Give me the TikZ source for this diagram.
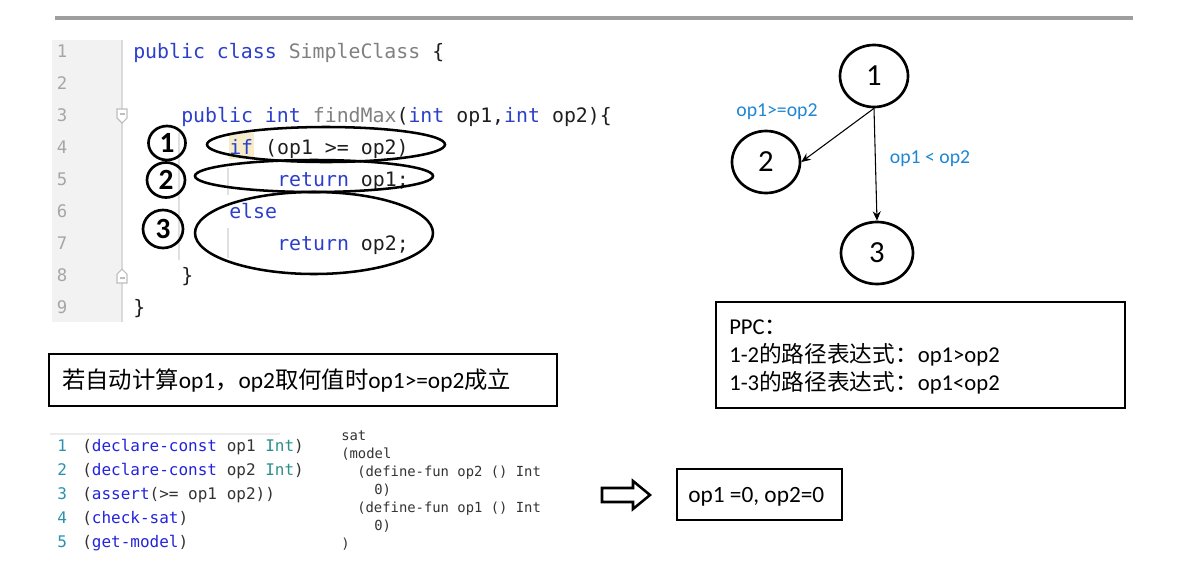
\documentclass[tikz,border=0pt]{standalone}
\usepackage{fontspec}
\setmainfont{Carlito}
\newfontfamily\zhfont{Noto Sans CJK SC}
\newfontfamily\codefont{DejaVu Sans Mono}
\usetikzlibrary{arrows.meta,shapes.geometric}
\definecolor{kw}{HTML}{2B3FCB}
\definecolor{gr}{HTML}{808080}
\definecolor{tx}{HTML}{1E1E1E}
\definecolor{lnumc}{HTML}{A6A6A6}
\definecolor{gutter}{HTML}{F2F2F2}
\definecolor{guide}{HTML}{E0E0E0}
\definecolor{hl}{HTML}{F6ECC9}
\definecolor{lbl}{HTML}{1F86D2}
\definecolor{smtnum}{HTML}{2B91AF}
\definecolor{smtkw}{HTML}{2323DD}
\definecolor{smtty}{HTML}{2B9089}
\definecolor{outc}{HTML}{333333}
\newcommand{\kwc}[1]{\textcolor{kw}{#1}}
\newcommand{\grc}[1]{\textcolor{gr}{#1}}
\newcommand{\skw}[1]{\textcolor{smtkw}{#1}}
\newcommand{\sty}[1]{\textcolor{smtty}{#1}}
\newcommand{\zh}[1]{{\zhfont #1}}
\tikzset{
  code/.style={font=\codefont\fontsize{14.9}{18}\selectfont, text=tx, inner sep=0, anchor=base west},
  lnum/.style={font=\codefont\fontsize{13}{16}\selectfont, text=lnumc, inner sep=0, anchor=base},
  smt/.style={font=\codefont\fontsize{12}{14}\selectfont, text=outc, inner sep=0, anchor=base west},
  smtn/.style={font=\codefont\fontsize{12}{14}\selectfont, text=smtnum, inner sep=0, anchor=base west},
  smtout/.style={font=\codefont\fontsize{10.4}{12}\selectfont, text=outc, inner sep=0, anchor=base west},
  oval/.style={ellipse, draw, line width=1.9pt, inner sep=0},
  cnum/.style={ellipse, draw, line width=2pt, inner sep=0, font=\bfseries\fontsize{22}{24}\selectfont},
  gnode/.style={ellipse, draw, line width=2pt, inner sep=0, minimum width=51pt, minimum height=46.5pt, font=\fontsize{23}{24}\selectfont},
  edge/.style={-{Stealth[length=7pt,width=6pt]}, line width=0.8pt},
  elabel/.style={text=lbl, inner sep=0, font=\fontsize{14.8}{16}\selectfont},
  box/.style={draw, line width=1.9pt, inner sep=0},
  btext/.style={inner sep=0, anchor=base west, font=\fontsize{17}{20}\selectfont}
}
\begin{document}
\begin{tikzpicture}[x=0.75pt,y=-0.75pt]
\useasboundingbox (0,0) rectangle (1189,565);
% top rule
\draw[line width=2.8pt, color={rgb,255:red,158;green,158;blue,158}] (55,18) -- (1133,18);
% code gutter
\fill[gutter] (52,40) rectangle (122,322);
\draw[line width=1.1pt, color={rgb,255:red,218;green,218;blue,218}] (122,40) -- (122,322);
\foreach \i in {1,...,9} {
  \node[lnum] (ln\i) at (62,{52+32*(\i-1)+5.5}) {\i};
}
% fold markers
\draw[fill=white, draw={rgb,255:red,190;green,190;blue,190}, line width=0.8pt] (117,109) -- (127,109) -- (127,118) -- (122,123) -- (117,118) -- cycle;
\draw[color={rgb,255:red,190;green,190;blue,190}, line width=0.8pt] (119.5,114) -- (124.5,114);
\draw[fill=white, draw={rgb,255:red,190;green,190;blue,190}, line width=0.8pt] (117,283) -- (127,283) -- (127,274) -- (122,269) -- (117,274) -- cycle;
\draw[color={rgb,255:red,190;green,190;blue,190}, line width=0.8pt] (119.5,278) -- (124.5,278);
% indent guides
\draw[guide, line width=0.9pt] (179,133) -- (179,260);
\draw[guide, line width=0.9pt] (228,168) -- (228,195);
\draw[guide, line width=0.9pt] (228,228) -- (228,258);
% highlight of if
\fill[hl] (229,133) rectangle (254,159);
% code lines
\node[code] (c1) at (133,58) {\kwc{public class} \grc{SimpleClass} \{};
\node[code] (c3) at (181,122) {\kwc{public int} \grc{findMax}(\kwc{int} op1,\kwc{int} op2)\{};
\node[code] (c4) at (229,154) {\kwc{if} (op1 >= op2)};
\node[code] (c5) at (277,186) {\kwc{return} op1;};
\node[code] (c6) at (229,218) {\kwc{else}};
\node[code] (c7) at (277,250) {\kwc{return} op2;};
\node[code] (c8) at (181,282) {\}};
\node[code] (c9) at (133,314) {\}};
% ovals around code
\node[oval, minimum width=178.5pt, minimum height=26.25pt] (o1) at (326,144.5) {};
\node[oval, minimum width=178.5pt, minimum height=24pt] (o2) at (314,176) {};
\node[oval, minimum width=178.5pt, minimum height=61.5pt] (o3) at (314,233) {};
\node[cnum, minimum width=27.75pt, minimum height=25.5pt] (k1) at (167,143) {1};
\node[cnum, minimum width=28.5pt, minimum height=26.25pt] (k2) at (166,180) {2};
\node[cnum, minimum width=30pt, minimum height=28.5pt] (k3) at (163,229) {3};
% graph
\node[gnode] (n1) at (874,76) {1};
\node[gnode] (n2) at (766,162) {2};
\node[gnode, minimum width=54pt] (n3) at (877,253) {3};
\draw[edge] (n1.south) -- (n2.east);
\draw[edge] (n1.south) -- (n3.north);
\node[elabel] (l12) at (777,112) {op1>=op2};
\node[elabel] (l13) at (930,159) {op1 < op2};
% PPC box
\node[box, minimum width=306.75pt, minimum height=79.5pt] (ppc) at (920.5,355) {};
\node[btext] (p1) at (729,334) {PPC\zh{：}};
\node[btext] (p2) at (729,362) {1-2\zh{的路径表达式：}op1>op2};
\node[btext] (p3) at (729,390) {1-3\zh{的路径表达式：}op1<op2};
% question box
\node[box, minimum width=381pt, minimum height=39pt] (q) at (303,380) {};
\node[btext, font=\fontsize{17.5}{20}\selectfont] (qt) at (62,388) {\zh{若自动计算}op1\zh{，}op2\zh{取何值时}op1>=op2\zh{成立}};
% smt code
\draw[color={rgb,255:red,236;green,236;blue,236}, line width=0.8pt] (50,434) -- (280,434);
\node[smtn] (s1n) at (57,451) {1};
\node[smtn] (s2n) at (57,475) {2};
\node[smtn] (s3n) at (57,499) {3};
\node[smtn] (s4n) at (57,523) {4};
\node[smtn] (s5n) at (57,547) {5};
\node[smt] (s1) at (82,451) {(\skw{declare-const} op1 \sty{Int})};
\node[smt] (s2) at (82,475) {(\skw{declare-const} op2 \sty{Int})};
\node[smt] (s3) at (82,499) {(\skw{assert}(>= op1 op2))};
\node[smt] (s4) at (82,523) {(\skw{check-sat})};
\node[smt] (s5) at (82,547) {(\skw{get-model})};
% smt output
\node[smtout] (r1) at (341,440) {sat};
\node[smtout] (r2) at (341,458) {(model};
\node[smtout] (r3) at (357,476) {(define-fun op2 () Int};
\node[smtout] (r4) at (374,494) {0)};
\node[smtout] (r5) at (357,512) {(define-fun op1 () Int};
\node[smtout] (r6) at (374,530) {0)};
\node[smtout] (r7) at (341,548) {)};
% block arrow
\draw[line width=1.9pt, fill=white, line join=miter] (602,488) -- (633,488) -- (633,481) -- (650,495) -- (633,509) -- (633,502) -- (602,502) -- cycle;
% result box
\node[box, minimum width=123.75pt, minimum height=38.25pt] (res) at (759.5,494.5) {};
\node[btext, font=\fontsize{17.5}{20}\selectfont] (rt) at (688,502) {op1 =0, op2=0};
\end{tikzpicture}
\end{document}
